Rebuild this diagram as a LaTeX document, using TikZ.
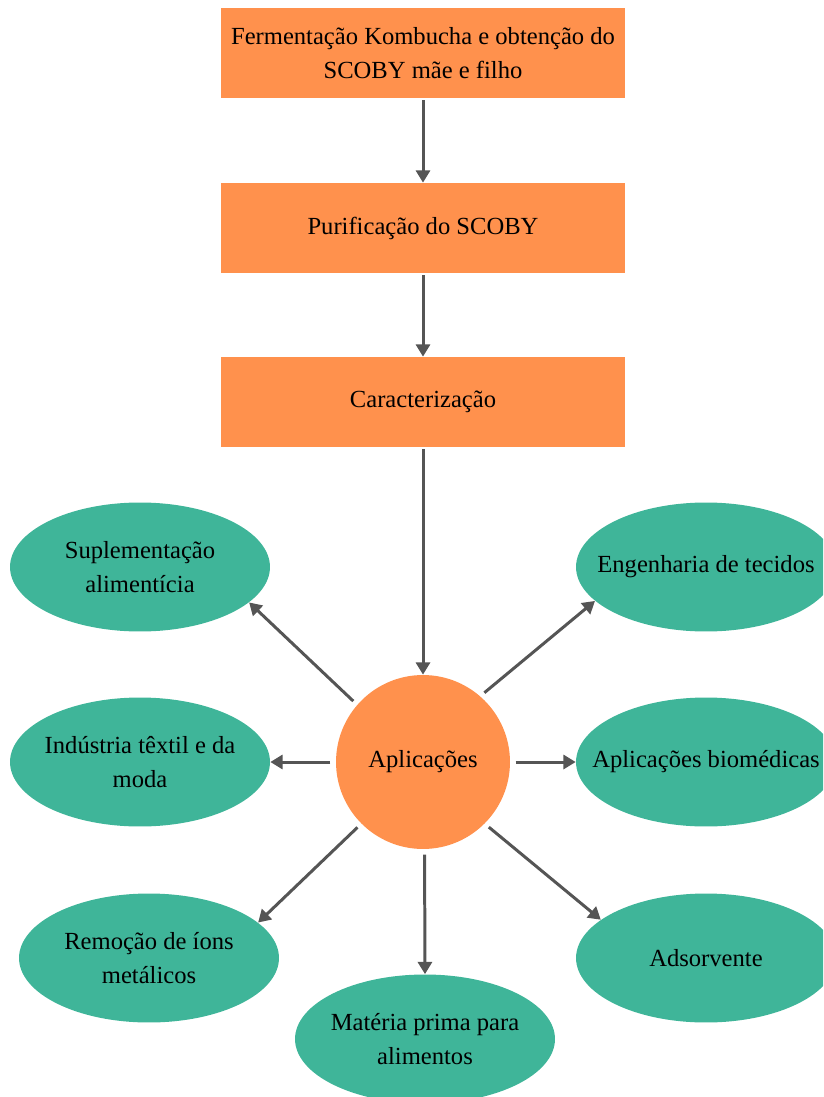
\documentclass[tikz,border=0pt]{standalone}
\usepackage{fontspec}
\setmainfont{Liberation Serif}
\usetikzlibrary{shapes.geometric,arrows.meta}
\definecolor{laranja}{HTML}{FF914D}
\definecolor{verde}{HTML}{3FB599}
\definecolor{seta}{HTML}{555555}
\tikzset{
  etapa/.style={rectangle,fill=laranja,minimum width=8.08cm,minimum height=1.8cm,inner sep=0pt,align=center},
  aplic/.style={ellipse,fill=verde,minimum width=5.2cm,minimum height=2.58cm,inner xsep=-30pt,inner ysep=0pt,align=center},
  fluxo/.style={draw=seta,line width=1.7pt,-{Triangle[width=8pt,length=7pt]}}
}
\begin{document}
\begin{tikzpicture}[x=0.02cm,y=-0.02cm,font=\fontsize{14}{19}\selectfont]
\clip (0,0) rectangle (823,1097);
\node[etapa] (ferm) at (423,53) {Fermentação Kombucha e obtenção do\\SCOBY mãe e filho};
\node[etapa] (puri) at (423,228) {Purificação do SCOBY};
\node[etapa] (cara) at (423,402) {Caracterização};
\node[circle,fill=laranja,minimum size=3.48cm,inner sep=0pt] (apl) at (423,762) {Aplicações};
\node[aplic] (supl) at (140,567) {Suplementação\\alimentícia};
\node[aplic] (ind) at (140,762) {Indústria têxtil e da\\moda};
\node[aplic] (rem) at (149,958) {Remoção de íons\\metálicos};
\node[aplic] (mat) at (425,1039) {Matéria prima para\\alimentos};
\node[aplic] (ads) at (706,958) {Adsorvente};
\node[aplic] (bio) at (706,762) {Aplicações biomédicas};
\node[aplic] (eng) at (706,567) {Engenharia de tecidos};
\draw[fluxo,shorten <=1pt] (ferm) -- (puri);
\draw[fluxo,shorten <=1pt] (puri) -- (cara);
\draw[fluxo,shorten <=1pt] (cara) -- (apl);
\foreach \a/\b/\c in {139/supl/342,180/ind/0,225/rem/18,271/mat/90,315/ads/160,0/bio/180,49/eng/197}
  \draw[fluxo,shorten <=3pt] (apl.\a) -- (\b.\c);
\end{tikzpicture}
\end{document}
